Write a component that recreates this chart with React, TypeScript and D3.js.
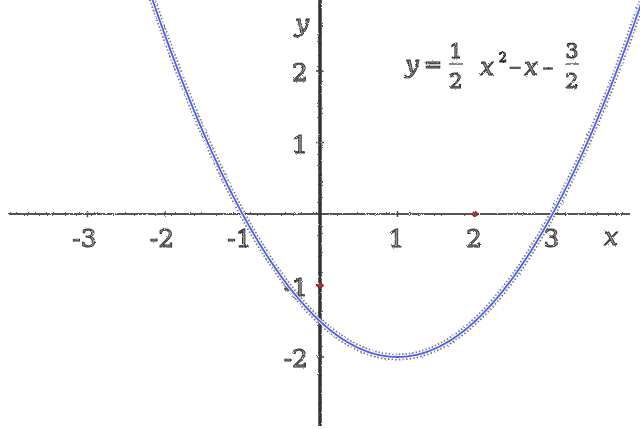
import * as d3 from "d3";
import React, { useRef, useEffect } from "react";

const xTicks = [-3, -2, -1, 1, 2, 3];
const yTicks = [-2, -1, 1, 2];
const xLabels = ["-3", "-2", "-1", "1", "2", "3"];
const yLabels = ["-2", "-1", "1", "2"];
const redX = [2];
const redY = [-1];
// y = a x^2 + b x + c
const coef = [0.5, -1, -1.5];
const xRange = [-2.35, 4.15];

function App() {
  const svgRef = useRef<SVGSVGElement>(null);

  useEffect(() => {
    const w = 640;
    const h = 429;
    const svg = d3.select(svgRef.current)
      .attr("width", w)
      .attr("height", h)
      .style("position", "absolute")
      .style("left", 0)
      .style("top", 0)
      .style("background", "#fff");
    svg.selectAll("*").remove();

    const ux = 77.5;
    const uy = 71.5;
    const x = d3.scaleLinear().domain([-320 / ux, 320 / ux]).range([0, w]);
    const y = d3.scaleLinear().domain([-215 / uy, 214 / uy]).range([h, 0]);

    // rough pencil filter
    const defs = svg.append("defs");
    const f = defs.append("filter").attr("id", "rough");
    f.append("feTurbulence").attr("type", "fractalNoise").attr("baseFrequency", 0.9).attr("numOctaves", 2).attr("result", "n");
    f.append("feDisplacementMap").attr("in", "SourceGraphic").attr("in2", "n").attr("scale", 2.5);

    const g = svg.append("g").attr("filter", "url(#rough)");

    // x axis
    g.append("line")
      .attr("x1", 8).attr("x2", 630)
      .attr("y1", y(0)).attr("y2", y(0))
      .attr("stroke", "#555").attr("stroke-width", 1.8);
    // y axis
    g.append("line")
      .attr("x1", x(0)).attr("x2", x(0))
      .attr("y1", 0).attr("y2", 426)
      .attr("stroke", "#333").attr("stroke-width", 3.5);

    g.selectAll(".xt").data(xTicks).join("line")
      .attr("x1", d => x(d)).attr("x2", d => x(d))
      .attr("y1", y(0) - 3).attr("y2", y(0) + 3)
      .attr("stroke", "#444").attr("stroke-width", 1.5);
    g.selectAll(".yt").data(yTicks).join("line")
      .attr("x1", x(0) - 4).attr("x2", x(0) + 4)
      .attr("y1", d => y(d)).attr("y2", d => y(d))
      .attr("stroke", "#444").attr("stroke-width", 1.5);
    g.selectAll(".rx").data(redX).join("circle")
      .attr("cx", d => x(d)).attr("cy", y(0)).attr("r", 2.5)
      .attr("fill", "#a33").attr("stroke", "#722");
    g.selectAll(".ry").data(redY).join("circle")
      .attr("cx", x(0)).attr("cy", d => y(d)).attr("r", 2.5)
      .attr("fill", "#a33").attr("stroke", "#722");

    const font = "DejaVu Serif, Liberation Serif, serif";
    const txt = (sel: any, size = 25) => sel
      .attr("font-family", font)
      .attr("font-size", size)
      .attr("fill", "#999")
      .attr("stroke", "#2a2a2a")
      .attr("stroke-width", 0.9);

    g.selectAll(".xl").data(xTicks).join("text")
      .attr("x", d => x(d) + (d > 0 ? -1 : -3))
      .attr("y", y(0) + 33)
      .attr("text-anchor", "middle")
      .text((d, i) => xLabels[i])
      .call(txt);
    g.selectAll(".yl").data(yTicks).join("text")
      .attr("x", x(0) - 12)
      .attr("y", d => y(d) + 10)
      .attr("text-anchor", "end")
      .text((d, i) => yLabels[i])
      .call(txt);
    g.append("text").attr("x", 611).attr("y", 245).attr("text-anchor", "middle")
      .attr("font-style", "italic").text("x").call(txt);
    g.append("text").attr("x", 302).attr("y", 32).attr("text-anchor", "middle")
      .attr("font-style", "italic").text("y").call(txt);

    // formula
    const fm = g.append("g");
    fm.append("text").attr("x", 412).attr("y", 73).attr("text-anchor", "middle").attr("font-style", "italic").text("y").call(txt, 24);
    fm.append("text").attr("x", 433).attr("y", 72).attr("text-anchor", "middle").text("=").call(txt, 22);
    fm.append("text").attr("x", 456).attr("y", 58).attr("text-anchor", "middle").text("1").call(txt, 21);
    fm.append("line").attr("x1", 449).attr("x2", 463).attr("y1", 64).attr("y2", 64).attr("stroke", "#555").attr("stroke-width", 1.4);
    fm.append("text").attr("x", 456).attr("y", 88).attr("text-anchor", "middle").text("2").call(txt, 21);
    fm.append("text").attr("x", 487).attr("y", 75).attr("text-anchor", "middle").attr("font-style", "italic").text("x").call(txt, 24);
    fm.append("text").attr("x", 503).attr("y", 62).attr("text-anchor", "middle").text("2").call(txt, 13);
    fm.append("text").attr("x", 515).attr("y", 73).attr("text-anchor", "middle").text("−").call(txt, 16);
    fm.append("text").attr("x", 531).attr("y", 75).attr("text-anchor", "middle").attr("font-style", "italic").text("x").call(txt, 24);
    fm.append("text").attr("x", 548).attr("y", 73).attr("text-anchor", "middle").text("−").call(txt, 14);
    fm.append("text").attr("x", 572).attr("y", 58).attr("text-anchor", "middle").text("3").call(txt, 21);
    fm.append("line").attr("x1", 565).attr("x2", 579).attr("y1", 64).attr("y2", 64).attr("stroke", "#555").attr("stroke-width", 1.4);
    fm.append("text").attr("x", 572).attr("y", 88).attr("text-anchor", "middle").text("2").call(txt, 21);

    // curve
    const pts = d3.range(xRange[0], xRange[1] + 0.001, 0.02).map(v => [v, coef[0] * v * v + coef[1] * v + coef[2]]);
    const line = d3.line<number[]>().x(d => x(d[0])).y(d => y(d[1])).curve(d3.curveLinear);
    const cg = svg.append("g");
    cg.append("path").attr("d", line(pts)).attr("fill", "none")
      .attr("stroke", "#555").attr("stroke-width", 7).attr("stroke-dasharray", "1.5 2").attr("opacity", 0.8)
      .attr("filter", "url(#rough)");
    cg.append("path").attr("d", line(pts)).attr("fill", "none")
      .attr("stroke", "#fff").attr("stroke-width", 3.5);
    cg.append("path").attr("d", line(pts)).attr("fill", "none")
      .attr("stroke", "#4a5cf5").attr("stroke-width", 1.8);
  }, []);

  return (
    <div className="App">
      <svg ref={svgRef}></svg>
    </div>
  );
}

export default App;
